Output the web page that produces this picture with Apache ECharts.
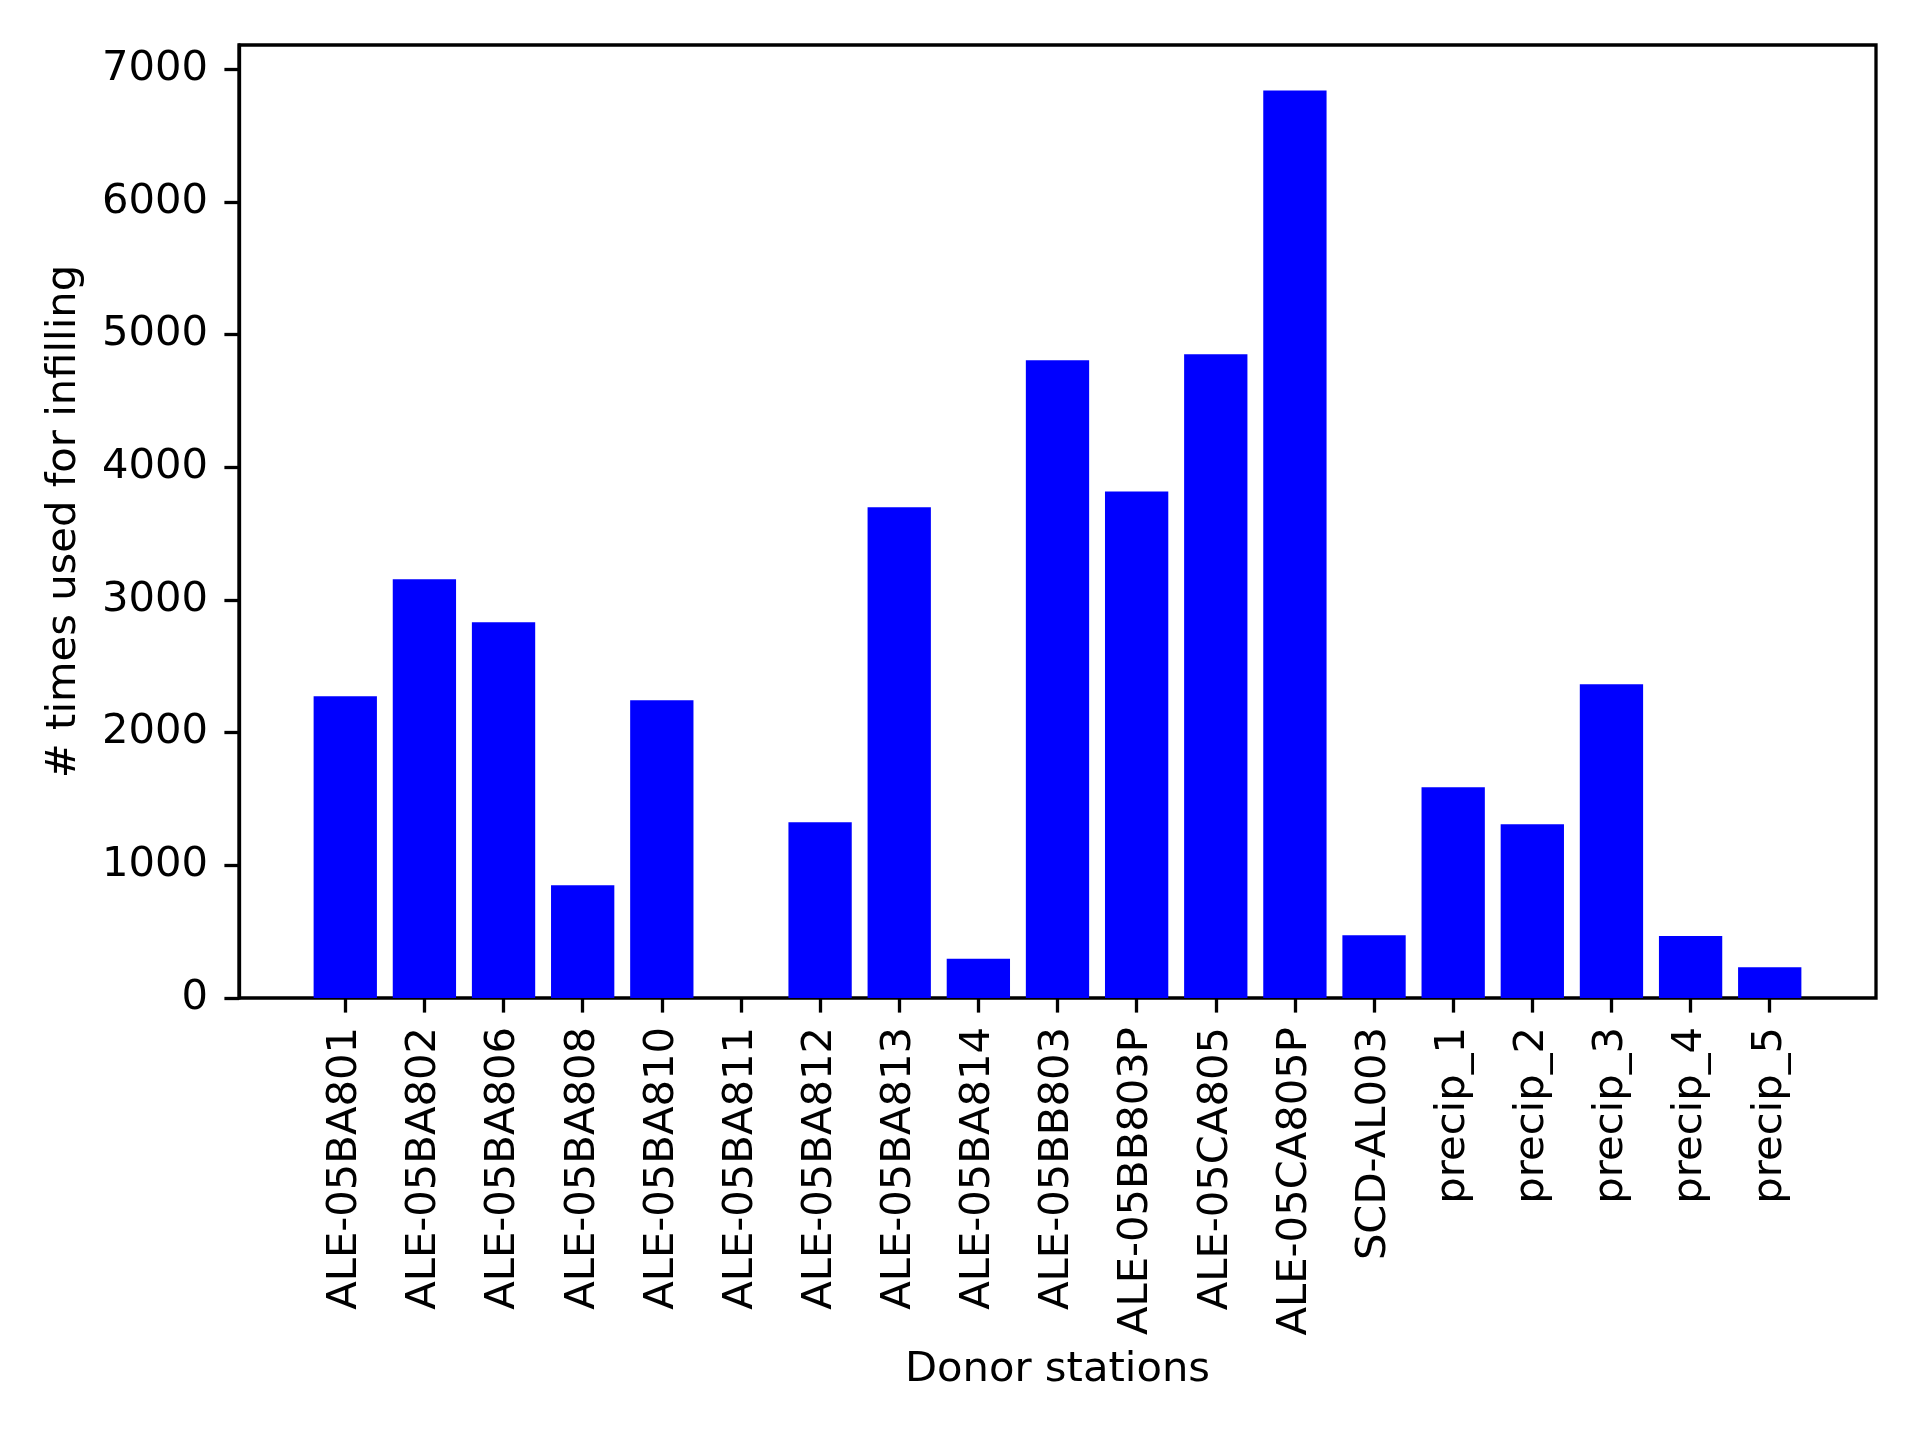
<!DOCTYPE html>
<html>
<head>
<meta charset="utf-8">
<title>Donor stations</title>
<script src="https://cdn.jsdelivr.net/npm/echarts@6/dist/echarts.min.js"></script>
<style>
  html, body { margin: 0; padding: 0; background: #fff; }
  #chart { width: 1920px; height: 1440px; }
</style>
</head>
<body>
<div id="chart"></div>
<script>
  // Data
  var stations = ['ALE-05BA801', 'ALE-05BA802', 'ALE-05BA806', 'ALE-05BA808',
    'ALE-05BA810', 'ALE-05BA811', 'ALE-05BA812', 'ALE-05BA813', 'ALE-05BA814',
    'ALE-05BB803', 'ALE-05BB803P', 'ALE-05CA805', 'ALE-05CA805P', 'SCD-AL003',
    'precip_1', 'precip_2', 'precip_3', 'precip_4', 'precip_5'];
  var timesUsed = [2274, 3155, 2831, 849, 2243, 0, 1324, 3698, 295,
    4806, 3818, 4851, 6840, 472, 1588, 1309, 2364, 467, 231];
  var yTicks = [0, 1000, 2000, 3000, 4000, 5000, 6000, 7000];
  var yMax = 7182;

  var font = 'DejaVu Sans';
  var fontSize = 41.7;
  var lw = 3.3;

  var chart = echarts.init(document.getElementById('chart'));
  var option = {
    backgroundColor: '#ffffff',
    animation: false,
    grid: [
      // axes frame
      { left: 239, right: 44, top: 45, bottom: 442, show: true,
        borderColor: '#000', borderWidth: lw, backgroundColor: 'transparent' },
      // category area (matplotlib keeps extra margin around bars)
      { left: 305.7, right: 110.7, top: 45, bottom: 442 }
    ],
    xAxis: [
      { gridIndex: 0, type: 'value', show: false },
      {
        gridIndex: 1,
        type: 'category',
        data: stations,
        name: 'Donor stations',
        nameLocation: 'middle',
        nameGap: 351,
        nameTextStyle: { fontFamily: font, fontSize: fontSize, color: '#000' },
        axisLine: { show: false },
        axisTick: { show: true, alignWithLabel: true, length: 14.6,
          lineStyle: { color: '#000', width: lw } },
        axisLabel: { rotate: 90, margin: 29, interval: 0,
          fontFamily: font, fontSize: fontSize, color: '#000' },
        splitLine: { show: false }
      }
    ],
    yAxis: [
      {
        gridIndex: 0,
        type: 'value',
        min: 0,
        max: yMax,
        name: '# times used for infilling',
        nameLocation: 'middle',
        nameGap: 154,
        nameTextStyle: { fontFamily: font, fontSize: fontSize, color: '#000' },
        axisLine: { show: true, lineStyle: { color: '#000', width: lw } },
        axisTick: { show: true, length: 14.6, customValues: yTicks,
          lineStyle: { color: '#000', width: lw } },
        axisLabel: { margin: 31, customValues: yTicks,
          fontFamily: font, fontSize: fontSize, color: '#000',
          formatter: function (v) { return String(v); } },
        splitLine: { show: false }
      },
      { gridIndex: 1, type: 'value', min: 0, max: yMax, show: false,
        splitLine: { show: false } }
    ],
    series: [
      {
        type: 'bar',
        xAxisIndex: 1,
        yAxisIndex: 1,
        data: timesUsed,
        barWidth: '80%',
        itemStyle: { color: '#0000ff' }
      }
    ]
  };
  chart.setOption(option);
</script>
</body>
</html>
